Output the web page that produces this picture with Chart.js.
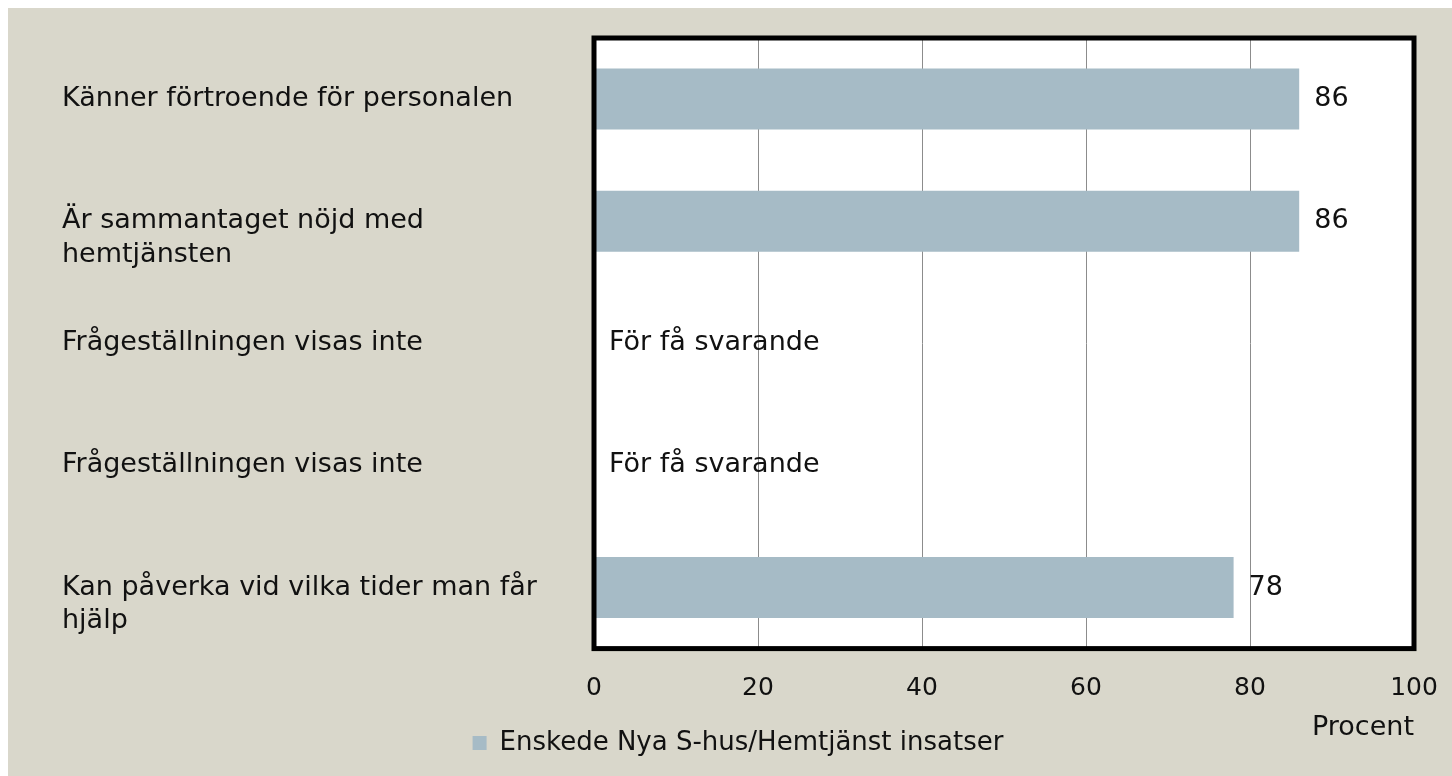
<!DOCTYPE html>
<html>
<head>
<meta charset="utf-8">
<script src="https://cdn.jsdelivr.net/npm/chart.js@4/dist/chart.umd.min.js"></script>
<style>
  body { margin: 8px 0 0 8px; background: #ffffff; }
  #wrap { width: 1444px; height: 768px; background: #d9d7cb; }
</style>
</head>
<body>
<div id="wrap"><canvas id="monGraphique"></canvas></div>
<script>
// données du graphique
let categories = [
    'Känner förtroende för personalen',
    ['', 'Är sammantaget nöjd med', 'hemtjänsten'],
    'Frågeställningen visas inte',
    'Frågeställningen visas inte',
    ['', 'Kan påverka vid vilka tider man får', 'hjälp']
];
let values = [86, 86, null, null, 78];
let seriesName = 'Enskede Nya S-hus/Hemtjänst insatser';
let missingText = 'För få svarande';
let axisTitle = 'Procent';
let tickValues = [0, 20, 40, 60, 80, 100];

let barColor = '#a6bbc6';
let fontFam = '"DejaVu Sans", sans-serif';

//////////////////////////
/// PLUGINS            ///
//////////////////////////

// cadre noir autour de la zone du graphique (fond blanc dessous)
let framePlugin = {
    id: 'frame',
    beforeDraw(chart) {
        let a = chart.chartArea;
        let ctx = chart.ctx;
        ctx.save();
        ctx.fillStyle = '#ffffff';
        ctx.fillRect(a.left, a.top, a.right - a.left, a.bottom - a.top);
        ctx.restore();
    },
    afterDraw(chart) {
        let a = chart.chartArea;
        let ctx = chart.ctx;
        ctx.save();
        ctx.strokeStyle = '#000000';
        ctx.lineWidth = 5;
        ctx.strokeRect(a.left, a.top, a.right - a.left, a.bottom - a.top);
        ctx.restore();
    }
};

// étiquettes de valeurs à droite des barres
let labelPlugin = {
    id: 'valueLabels',
    afterDatasetsDraw(chart) {
        let ctx = chart.ctx;
        let xs = chart.scales.x;
        let ys = chart.scales.y;
        ctx.save();
        ctx.font = '27px ' + fontFam;
        ctx.fillStyle = '#111111';
        ctx.textBaseline = 'middle';
        ctx.textAlign = 'left';
        values.forEach((v, i) => {
            let y = ys.getPixelForValue(i);
            if (v === null) {
                ctx.fillText(missingText, xs.getPixelForValue(0) + 15, y);
            } else {
                ctx.fillText(String(v), xs.getPixelForValue(v) + 15, y);
            }
        });
        ctx.restore();
    }
};

let ctx = document.getElementById('monGraphique').getContext('2d');
let myChart = new Chart(ctx, {
    type: 'bar',
    data: {
        labels: categories,
        datasets: [{
            label: seriesName,
            data: values,
            backgroundColor: barColor,
            borderWidth: 0,
            categoryPercentage: 0.5,
            barPercentage: 1
        }]
    },
    options: {
        indexAxis: 'y',
        responsive: true,
        maintainAspectRatio: false,
        animation: false,
        layout: {
            padding: { left: 54, right: 38, top: 30, bottom: 10 }
        },
        scales: {
            x: {
                min: 0,
                max: 100,
                afterBuildTicks(scale) {
                    scale.ticks = tickValues.map(v => ({ value: v }));
                },
                afterFit(scale) {
                    scale.paddingLeft = 0;
                    scale.paddingRight = 0;
                },
                grid: {
                    color: '#8c8c8c',
                    lineWidth: 1,
                    drawTicks: false
                },
                border: { display: false },
                ticks: {
                    padding: 25,
                    color: '#111111',
                    font: { family: fontFam, size: 25 }
                },
                title: {
                    display: true,
                    text: axisTitle,
                    align: 'end',
                    color: '#111111',
                    font: { family: fontFam, size: 27 },
                    padding: { top: -17, bottom: -24 }
                }
            },
            y: {
                grid: { display: false },
                border: { display: false },
                afterFit(scale) {
                    scale.width = 532;
                    scale.paddingTop = 0;
                    scale.paddingBottom = 0;
                },
                ticks: {
                    crossAlign: 'far',
                    color: '#111111',
                    font: { family: fontFam, size: 27, lineHeight: 1.25 }
                }
            }
        },
        plugins: {
            legend: {
                position: 'bottom',
                labels: {
                    boxWidth: 14,
                    boxHeight: 14,
                    padding: 10,
                    color: '#111111',
                    font: { family: fontFam, size: 26 }
                }
            },
            tooltip: { enabled: false }
        }
    },
    plugins: [framePlugin, labelPlugin]
});
</script>
</body>
</html>
